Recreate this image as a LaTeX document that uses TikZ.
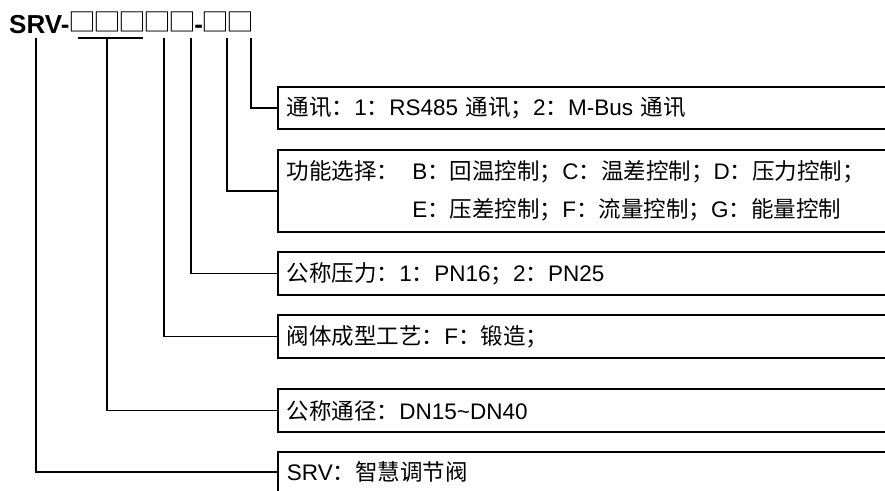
\documentclass[tikz,border=0pt]{standalone}
\usepackage{fontspec}
\usepackage{graphicx}
\setmainfont{Liberation Sans}
\newfontfamily\cjk{Noto Sans CJK SC}
\newcommand\zh[1]{{\cjk #1}}
\newcommand\codebox{\makebox[25pt][c]{\raisebox{1.5pt}{\scalebox{1.07}[0.97]{\cjk □}}}}
\begin{document}
\begin{tikzpicture}[x=1pt,y=-1pt,
  line/.style={line width=1.8pt, black},
  infobox/.style={draw, line width=1.8pt, anchor=west, minimum width=630pt, text width=612pt, align=left, inner xsep=8pt, inner ysep=0pt, font=\fontsize{22.5}{37.5}\selectfont},
]
\path[use as bounding box] (0,0) rectangle (885,490);
\clip (0,0) rectangle (885,490);
\fill[white] (0,0) rectangle (885,490);
% title
\node[anchor=base west, inner sep=0pt, font=\fontsize{26}{30}\selectfont] (title) at (9,33)
  {\textbf{SRV-}\codebox\codebox\codebox\codebox\codebox\textbf{-}\codebox\codebox};
% boxes
\node[infobox, minimum height=42pt] (b1) at (277,108)
  {\zh{通讯：}1\zh{：}RS485 \zh{通讯；}2\zh{：}M-Bus \zh{通讯}};
\node[infobox, minimum height=82pt] (b2) at (277,191)
  {\zh{功能选择：}\hspace{13pt}B\zh{：回温控制；}C\zh{：温差控制；}D\zh{：压力控制；}\\
   \hphantom{\zh{功能选择：}}\hspace{13pt}E\zh{：压差控制；}F\zh{：流量控制；}G\zh{：能量控制}};
\node[infobox, minimum height=43pt] (b3) at (277,273.5)
  {\zh{公称压力：}1\zh{：}PN16\zh{；}2\zh{：}PN25};
\node[infobox, minimum height=43pt] (b4) at (277,336.5)
  {\zh{阀体成型工艺：}F\zh{：锻造；}};
\node[infobox, minimum height=43pt] (b5) at (277,410.5)
  {\zh{公称通径：}DN15\textasciitilde DN40};
\node[infobox, minimum height=40pt] (b6) at (277,472)
  {SRV\zh{：智慧调节阀}};
% connector starts under the code
\coordinate (u1) at (78,38);
\coordinate (u2) at (143,38);
\coordinate (v1) at (251,38);
\coordinate (v2) at (227,38);
\coordinate (v3) at (191,38);
\coordinate (v4) at (164,38);
\coordinate (v5) at (107,38);
\coordinate (v6) at (36,38);
\draw[line] (u1) -- (u2);
\draw[line] (v1) |- (b1.west);
\draw[line] (v2) |- (b2.west);
\draw[line] (v3) |- (b3.west);
\draw[line] (v4) |- (b4.west);
\draw[line] (v5) |- (b5.west);
\draw[line] (v6) |- (b6.west);
\end{tikzpicture}
\end{document}
